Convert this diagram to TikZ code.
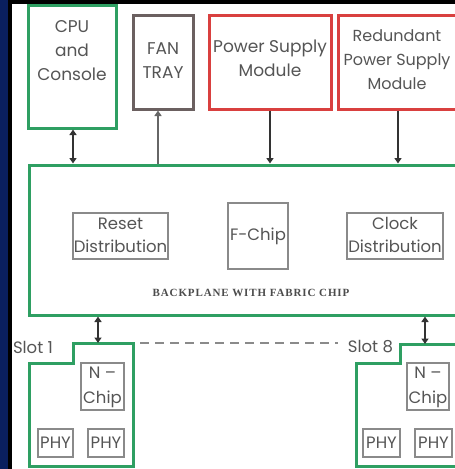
\documentclass[tikz,border=0pt]{standalone}
\usepackage{fontspec}
\setmainfont{Poppins}
\newfontfamily\bpfont[LetterSpace=8]{Liberation Serif}
\usetikzlibrary{arrows.meta}
\definecolor{navy}{HTML}{0A1F5E}
\definecolor{gline}{HTML}{2E9F62}
\definecolor{rline}{HTML}{D9403F}
\definecolor{fline}{HTML}{6B6060}
\definecolor{iline}{HTML}{8A8A8A}
\definecolor{txt}{HTML}{555555}
\tikzset{
  gbox/.style={draw=gline, line width=3pt, fill=white, inner sep=0pt},
  rbox/.style={draw=rline, line width=3pt, fill=white, inner sep=0pt},
  fbox/.style={draw=fline, line width=3pt, fill=white, inner sep=0pt},
  ibox/.style={draw=iline, line width=1.3pt, inner sep=0pt},
  lbl/.style={text=txt, font=\fontsize{17}{24}\selectfont, align=center, inner sep=0pt},
  slbl/.style={text=txt, font=\fontsize{16.5}{23}\selectfont, align=center, inner sep=0pt},
  conn/.style={draw=black!80, line width=1.8pt, -{Triangle[width=7pt,length=5.5pt]}},
  dconn/.style={draw=black!80, line width=1.8pt, {Triangle[width=7pt,length=5.5pt]}-{Triangle[width=7pt,length=5.5pt]}},
}
\begin{document}
\begin{tikzpicture}[x=1pt,y=-1pt]
\useasboundingbox (0,0) rectangle (455,469);
\fill[navy] (0,0) rectangle (455,469);
\fill[black] (8,0) rectangle (455,469);
\fill[white] (12,4) rectangle (455,469);
\clip (0,0) rectangle (455,469);

% top modules
\node[gbox, minimum width=88, minimum height=123] (cpu) at (72,66.5) {};
\node[lbl] (cputxt) at (72,51) {CPU\\and\\Console};
\node[fbox, minimum width=60, minimum height=94] (fan) at (163,62) {};
\node[lbl] (fantxt) at (163,61) {FAN\\TRAY};
\node[rbox, minimum width=122, minimum height=94] (psu) at (270,62) {};
\node[lbl] (psutxt) at (270,58) {Power Supply\\Module};
\node[rbox, minimum width=126, minimum height=94] (rpsu) at (401,62) {};
\node[lbl, font=\fontsize{16}{24}\selectfont] (rpsutxt) at (397,60) {Redundant\\Power Supply\\Module};

% backplane
\node[gbox, minimum width=441, minimum height=150] (bp) at (249.5,240) {};
\node[ibox, minimum width=95, minimum height=46] (reset) at (120.5,236) {};
\node[slbl] (resettxt) at (120.5,235) {Reset\\Distribution};
\node[ibox, minimum width=60, minimum height=66] (fchip) at (258,236) {};
\node[slbl] (fchiptxt) at (258,236) {F-Chip};
\node[ibox, minimum width=96, minimum height=46] (clock) at (395,236) {};
\node[slbl] (clocktxt) at (395,235) {Clock\\Distribution};
\node[text=black!70, font=\bpfont\bfseries\fontsize{11}{12}\selectfont, inner sep=0pt] (bplbl) at (251,293) {BACKPLANE WITH FABRIC CHIP};

% connectors top
\coordinate (fx) at (158,0);
\coordinate (px) at (270,0);
\coordinate (rx) at (398,0);
\coordinate (cx) at (73,0);
\draw[dconn] (cpu.south -| cx) -- (bp.north -| cx);
\draw[conn, draw=black!60] (bp.north -| fx) -- (fan.south -| fx);
\draw[conn] (psu.south -| px) -- (bp.north -| px);
\draw[conn] (rpsu.south -| rx) -- (bp.north -| rx);

% slot 1
\coordinate (s1top) at (98,343);
\draw[gline, line width=3pt, fill=white] (29,466) -- (29,363) -- (73,363) -- (73,343) -- (133,343) -- (133,466) -- cycle;
\node[slbl] (slot1) at (33,347) {Slot 1};
\node[ibox, minimum width=43, minimum height=47] (n1) at (102.5,386.5) {};
\node[slbl, font=\fontsize{16.5}{25}\selectfont] (n1txt) at (102.5,387) {N –\\Chip};
\node[ibox, minimum width=35, minimum height=28] (p1a) at (55.5,443) {};
\node[slbl] (p1atxt) at (55.5,443) {PHY};
\node[ibox, minimum width=36, minimum height=28] (p1b) at (106,443) {};
\node[slbl] (p1btxt) at (106,443) {PHY};
\draw[dconn] (bp.south -| s1top) -- (s1top);

% slot 8
\coordinate (s8top) at (425,344);
\draw[gline, line width=3pt, fill=white] (356,466) -- (356,363) -- (400,363) -- (400,344) -- (470,344) -- (470,466) -- cycle;
\node[slbl] (slot8) at (370.5,347) {Slot 8};
\node[ibox, minimum width=42, minimum height=47] (n8) at (428,386.5) {};
\node[slbl, font=\fontsize{16.5}{25}\selectfont] (n8txt) at (428,387) {N –\\Chip};
\node[ibox, minimum width=37, minimum height=28] (p8a) at (381.5,443) {};
\node[slbl] (p8atxt) at (381.5,443) {PHY};
\node[ibox, minimum width=37, minimum height=28] (p8b) at (433.5,443) {};
\node[slbl] (p8btxt) at (433.5,443) {PHY};
\draw[dconn] (bp.south -| s8top) -- (s8top);

% dashed link between slots
\coordinate (dl) at (140,343);
\coordinate (dr) at (338,343);
\draw[iline, line width=1.2pt, dash pattern=on 9pt off 6pt] (dl) -- (dr);
\end{tikzpicture}
\end{document}
